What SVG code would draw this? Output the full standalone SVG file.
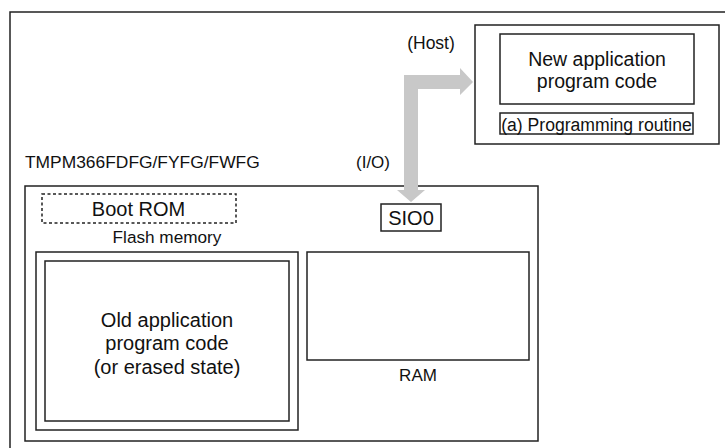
<svg xmlns="http://www.w3.org/2000/svg" width="725" height="448" viewBox="0 0 725 448">
<style>
.box{fill:none;stroke:#222;stroke-width:1.5}
.dash{fill:none;stroke:#222;stroke-width:1.5;stroke-dasharray:3 2.5}
.t{font-family:"Liberation Sans",Arial,sans-serif;fill:#111}
.arrow{fill:#c8c8c8;stroke:none}
</style>
<rect x="0" y="0" width="725" height="448" fill="#fff"/>
<g id="frame"><rect class="box" x="10" y="12" width="800" height="500"/></g>
<g id="host">
<rect class="box" x="475" y="25" width="244" height="119"/>
<text class="t" x="431" y="49" font-size="17.5" text-anchor="middle">(Host)</text>
</g>
<g id="newcode">
<rect class="box" x="500" y="34" width="194" height="70"/>
<text class="t" x="597" y="66" font-size="19.5" text-anchor="middle">New application</text>
<text class="t" x="597" y="88" font-size="19.5" text-anchor="middle">program code</text>
</g>
<g id="routine">
<rect class="box" x="500" y="113" width="193" height="21"/>
<text class="t" x="596.5" y="130.5" font-size="17.6" text-anchor="middle">(a) Programming routine</text>
</g>
<g id="chip">
<rect class="box" x="25" y="186" width="513" height="255"/>
<text class="t" x="25" y="168" font-size="17.4">TMPM366FDFG/FYFG/FWFG</text>
<text class="t" x="373" y="168" font-size="17" text-anchor="middle">(I/O)</text>
</g>
<g id="bootrom">
<rect class="dash" x="42" y="194" width="194" height="29"/>
<text class="t" x="138.5" y="216" font-size="20" text-anchor="middle">Boot ROM</text>
</g>
<g id="flash">
<text class="t" x="167" y="243" font-size="17.2" text-anchor="middle">Flash memory</text>
<rect class="box" x="36" y="252" width="262" height="178"/>
<rect class="box" x="45" y="261" width="244" height="160"/>
<text class="t" x="167" y="327" font-size="20" text-anchor="middle">Old application</text>
<text class="t" x="167" y="350" font-size="20" text-anchor="middle">program code</text>
<text class="t" x="167" y="374" font-size="20" text-anchor="middle">(or erased state)</text>
</g>
<g id="sio0">
<rect class="box" x="381" y="204" width="60" height="27"/>
<text class="t" x="411" y="225" font-size="20" text-anchor="middle">SIO0</text>
</g>
<g id="ram">
<rect class="box" x="307" y="252" width="222" height="108"/>
<text class="t" x="418" y="381" font-size="17" text-anchor="middle">RAM</text>
</g>
<g id="connectors">
<polygon class="arrow" points="404,75 460,75 460,68 473,82 460,95 460,89 418,89 418,190 425,190 411,202 397,190 404,190"/>
</g>
</svg>
